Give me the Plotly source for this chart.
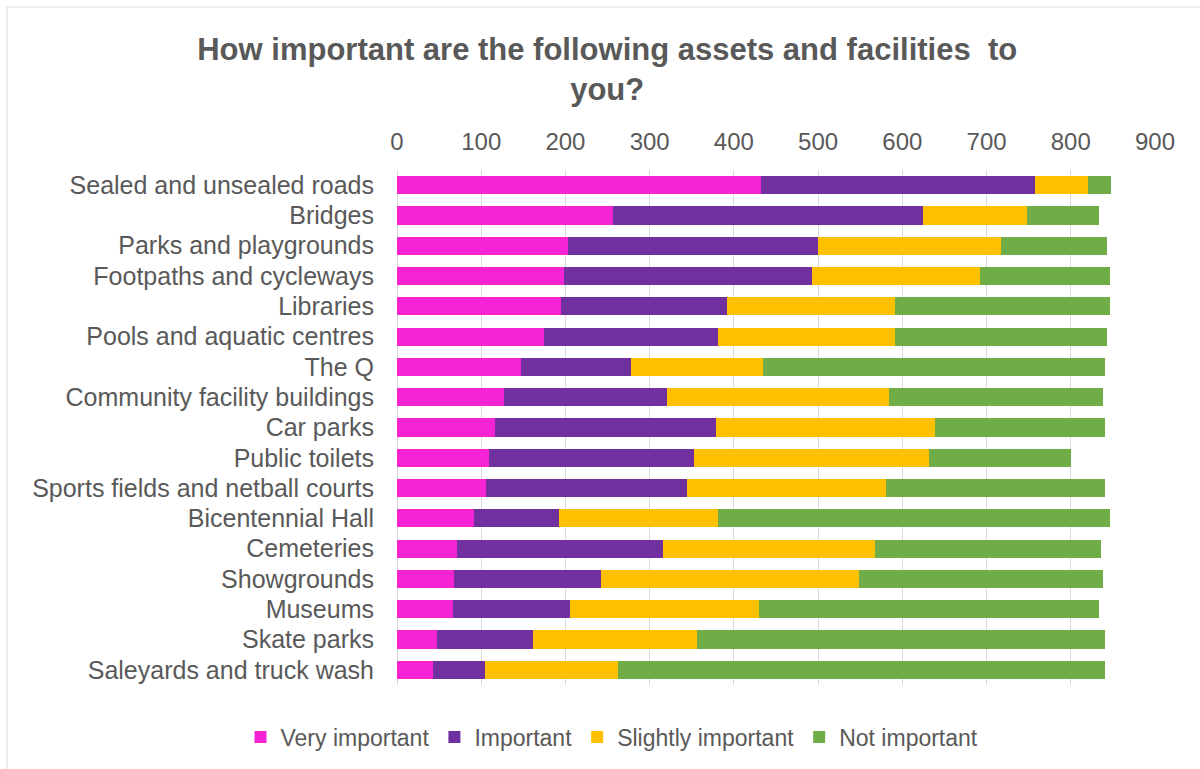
import plotly.graph_objects as go

categories = [
    "Sealed and unsealed roads", "Bridges", "Parks and playgrounds",
    "Footpaths and cycleways", "Libraries", "Pools and aquatic centres",
    "The Q", "Community facility buildings", "Car parks", "Public toilets",
    "Sports fields and netball courts", "Bicentennial Hall", "Cemeteries",
    "Showgrounds", "Museums", "Skate parks", "Saleyards and truck wash",
]
very_important = [432, 256, 203, 198, 195, 174, 147, 127, 116, 109, 106, 91, 71, 68, 66, 48, 43]
important = [326, 368, 297, 295, 197, 207, 131, 194, 263, 244, 238, 101, 245, 174, 139, 114, 61]
slightly_important = [63, 124, 217, 199, 199, 210, 157, 263, 260, 279, 237, 189, 252, 306, 225, 194, 158]
not_important = [27, 85, 126, 154, 255, 252, 406, 254, 202, 168, 260, 465, 268, 290, 403, 485, 579]

series_names = ["Very important", "Important", "Slightly important", "Not important"]
series_values = [very_important, important, slightly_important, not_important]
series_colors = ["#F623D5", "#7030A0", "#FFC000", "#70AD47"]

x_ticks = [0, 100, 200, 300, 400, 500, 600, 700, 800, 900]

fig = go.Figure()
for name, vals, col in zip(series_names, series_values, series_colors):
    fig.add_trace(go.Bar(
        y=categories, x=vals, name=name, orientation="h",
        marker=dict(color=col, line=dict(width=0)),
    ))

font_family = "Liberation Sans, Arial, sans-serif"
text_color = "#595959"

L, R, T, B = 397, 45, 170, 84
W, H = 1200, 769
pw = W - L - R
ph = H - T - B

fig.update_layout(
    width=W, height=H,
    barmode="stack", bargap=0.4,
    paper_bgcolor="white", plot_bgcolor="white",
    margin=dict(l=L, r=R, t=T, b=B, autoexpand=False),
    font=dict(family=font_family, color=text_color, size=24),
    title=dict(
        text="How important are the following assets and facilities  to<br>you?",
        font=dict(family=font_family, size=31, color=text_color, weight="bold"),
        x=0.506, xref="container", xanchor="center",
        y=1 - 60 / H, yref="container", yanchor="top",
        automargin=False,
    ),
    xaxis=dict(
        side="top", range=[0, 900], tickvals=x_ticks,
        showgrid=True, gridcolor="#D9D9D9", gridwidth=1,
        zeroline=True, zerolinecolor="#D9D9D9", zerolinewidth=1,
        showline=False, ticks="", ticklabelstandoff=14,
        tickfont=dict(size=24, color=text_color),
        automargin=False,
    ),
    yaxis=dict(
        autorange="reversed", showgrid=False, zeroline=False, showline=False,
        ticks="", ticklabelstandoff=22,
        tickfont=dict(size=25, color=text_color),
        automargin=False,
    ),
    legend=dict(
        orientation="h", xref="container", yref="container",
        x=0.51, xanchor="center", y=1 - 737 / H, yanchor="middle",
        font=dict(size=23, color=text_color), traceorder="normal",
        itemwidth=30, tracegroupgap=0,
    ),
    shapes=[dict(
        type="rect", xref="paper", yref="paper",
        x0=(7 - L) / pw, x1=1 + (R + 50) / pw,
        y0=-(B + 50) / ph, y1=1 + (T - 7) / ph,
        line=dict(color="#D9D9D9", width=1), fillcolor="rgba(0,0,0,0)",
        layer="below",
    )],
)

fig.write_html(
    "out.html",
    config={"displayModeBar": False},
    post_script="document.body.style.margin='0';document.body.style.overflow='hidden';",
)
